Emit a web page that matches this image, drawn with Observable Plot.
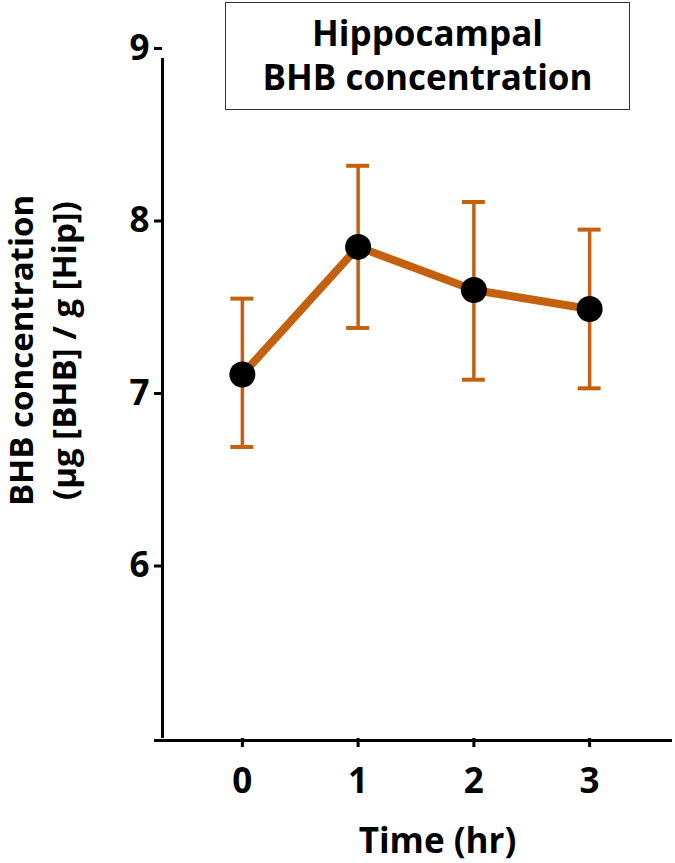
<!DOCTYPE html>
<html>
<head>
<meta charset="utf-8">
<script src="https://cdn.jsdelivr.net/npm/d3@7"></script>
<script src="https://cdn.jsdelivr.net/npm/@observablehq/plot@0.6"></script>
<style>
  html, body { margin: 0; padding: 0; background: #fff; }
  #wrap { position: relative; width: 675px; height: 863px; font-family: "Open Sans", sans-serif; }
  #title {
    position: absolute; left: 225px; top: 2px;
    border: 1.5px solid #333;
    text-align: center; font-weight: bold; font-size: 35px; line-height: 44px;
    padding-top: 8px; box-sizing: border-box; height: 108px; width: 405px;
    color: #000;
  }
  svg g[aria-label="y-axis tick"], svg g[aria-label="x-axis tick"] { stroke-width: 3px; }
</style>
</head>
<body>
<div id="wrap">
  <div id="chart"></div>
  <div id="title">Hippocampal<br>BHB concentration</div>
</div>
<script>
const times = [0, 1, 2, 3];
const means = [7.11, 7.85, 7.60, 7.49];
const upper = [7.55, 8.32, 8.11, 7.95];
const lower = [6.69, 7.38, 7.08, 7.03];
const yTicks = [6, 7, 8, 9];
const xTicks = [0, 1, 2, 3];
const xDomain = [-0.69, 3.716];
const yDomain = [5, 9];
const titleText = ["Hippocampal", "BHB concentration"];
const yLabel = "BHB concentration\n(μg [BHB] / g [Hip])";
const xLabel = "Time (hr)";

const data = times.map((t, i) => ({t, m: means[i], hi: upper[i], lo: lower[i]}));
const orange = "#C4610F";

const plot = Plot.plot({
  width: 675,
  height: 863,
  marginLeft: 162,
  marginRight: 3,
  marginTop: 48,
  marginBottom: 125,
  style: {fontFamily: "'Open Sans', sans-serif", fontSize: "35px", fontWeight: "bold", color: "#000", background: "transparent"},
  x: {domain: xDomain, ticks: xTicks, tickSize: 9, tickPadding: 21, tickFormat: d => String(d), label: null},
  y: {domain: yDomain, ticks: yTicks, tickSize: 8, tickPadding: 5, tickFormat: d => String(d), label: null},
  marks: [
    Plot.ruleX([xDomain[0]], {y1: yDomain[0], y2: yDomain[1], stroke: "#000", strokeWidth: 3, insetBottom: -10}),
    Plot.ruleY([yDomain[0]], {stroke: "#000", strokeWidth: 3, insetLeft: -8, dy: 2}),
    Plot.ruleX(data, {x: "t", y1: "lo", y2: "hi", stroke: orange, strokeWidth: 3.5}),
    Plot.ruleY(data, {y: "hi", x1: "t", x2: "t", insetLeft: -11.5, insetRight: -11.5, stroke: orange, strokeWidth: 4}),
    Plot.ruleY(data, {y: "lo", x1: "t", x2: "t", insetLeft: -11.5, insetRight: -11.5, stroke: orange, strokeWidth: 4}),
    Plot.line(data, {x: "t", y: "m", stroke: orange, strokeWidth: 8}),
    Plot.dot(data, {x: "t", y: "m", r: 13, fill: "#000", stroke: "none"}),
    Plot.text([yLabel], {frameAnchor: "left", rotate: -90, dx: -122, dy: -43, lineAnchor: "middle", textAnchor: "middle", lineHeight: 1.3, fontSize: 33, fontWeight: "bold", fill: "#000"}),
    Plot.text([xLabel], {frameAnchor: "bottom", dx: 20, dy: 103, lineAnchor: "middle", textAnchor: "middle", fontSize: 35, fontWeight: "bold", fill: "#000"})
  ]
});
document.getElementById("chart").appendChild(plot);
document.getElementById("title").innerHTML = titleText.join("<br>");
</script>
</body>
</html>
